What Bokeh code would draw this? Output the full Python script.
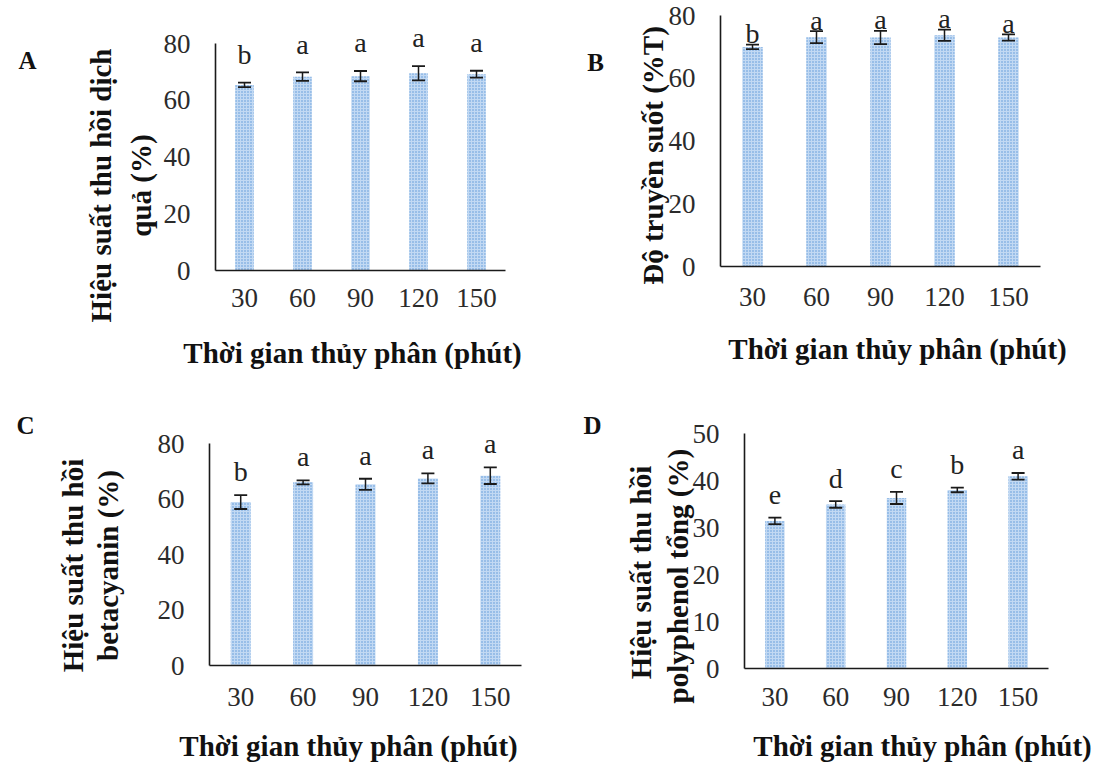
import math
from bokeh.plotting import figure
from bokeh.models import (ColumnDataSource, Range1d, FixedTicker,
                          Whisker, TeeHead, Label)
from bokeh.layouts import gridplot
from bokeh.core.properties import value
from bokeh.embed import file_html
from bokeh.resources import INLINE

# ---------------- data ----------------
times = ["30", "60", "90", "120", "150"]

recovery_juice = [65.4, 68.3, 68.5, 69.5, 69.2]
recovery_juice_err = [0.8, 1.5, 1.8, 2.5, 1.2]
recovery_juice_letters = ["b", "a", "a", "a", "a"]

transmittance = [70.0, 73.1, 73.0, 73.7, 73.0]
transmittance_err = [0.7, 1.9, 2.1, 1.8, 1.0]
transmittance_letters = ["b", "a", "a", "a", "a"]

betacyanin = [58.9, 66.0, 65.3, 67.4, 68.4]
betacyanin_err = [2.5, 0.7, 2.0, 1.8, 3.0]
betacyanin_letters = ["b", "a", "a", "a", "a"]

polyphenol = [31.4, 34.9, 36.3, 38.0, 40.9]
polyphenol_err = [0.7, 0.7, 1.3, 0.5, 0.7]
polyphenol_letters = ["e", "d", "c", "b", "a"]

x_title = "Thời gian thủy phân (phút)"

FONT = "Liberation Serif"
BAR_FILL = "#c2d9f3"
BAR_HATCH = "#5a95d7"
AX = "#1a1a1a"


def make_panel(tag, vals, errs, letters, ymax, ystep, ytitle_lines,
               W, H, fl, fr, axis0, axistop, letter_off, tick_standoff,
               ytitle_x, ytitle_y, xtitle_x, xtitle_y, tag_x, tag_y):
    n = len(times)
    xpos = [i + 1 for i in range(n)]
    ppx = (fr - fl) / n                       # pixels per category
    x0 = 0.5 - fl / ppx
    ppu = (axis0 - axistop) / ymax            # pixels per y unit
    y0 = -(H - axis0) / ppu

    def dx(px):
        return x0 + px / ppx

    def dy(py):
        return y0 + (H - py) / ppu

    p = figure(width=W, height=H,
               x_range=Range1d(x0, x0 + W / ppx),
               y_range=Range1d(y0, y0 + H / ppu),
               output_backend="svg", toolbar_location=None,
               min_border=0, min_border_left=0, min_border_right=0,
               min_border_top=0, min_border_bottom=0)
    p.outline_line_color = None
    p.grid.visible = False
    p.background_fill_color = "white"
    p.border_fill_color = "white"

    src = ColumnDataSource(dict(
        x=xpos, top=vals,
        lo=[v - e for v, e in zip(vals, errs)],
        hi=[v + e for v, e in zip(vals, errs)],
        ly=[v + e + letter_off for v, e in zip(vals, errs)],
        lt=letters))

    p.vbar(x="x", top="top", bottom=0, width=0.32, source=src,
           fill_color=BAR_FILL, line_color=None,
           hatch_pattern="dot", hatch_color=BAR_HATCH, hatch_scale=3,
           hatch_weight=1.3)

    w = Whisker(base="x", lower="lo", upper="hi", source=src,
                line_color=AX, line_width=1.5, level="overlay",
                upper_head=TeeHead(size=13, line_color=AX, line_width=1.8),
                lower_head=TeeHead(size=13, line_color=AX, line_width=1.8))
    p.add_layout(w)

    p.text(x="x", y="ly", text="lt", source=src, text_align="center",
           text_baseline="middle", text_font=value(FONT),
           text_font_size="28px", text_color="#222222")

    # axes drawn at fixed locations
    xa = p.xaxis[0]
    ya = p.yaxis[0]
    xa.fixed_location = 0
    ya.fixed_location = 0.5
    xa.bounds = (0.5, n + 0.5)
    ya.bounds = (0, ymax)
    xa.ticker = FixedTicker(ticks=xpos)
    xa.major_label_overrides = {xp: t for xp, t in zip(xpos, times)}
    ya.ticker = FixedTicker(ticks=list(range(0, ymax + 1, ystep)))
    for ax in (xa, ya):
        ax.axis_line_color = AX
        ax.axis_line_width = 1.6
        ax.major_tick_line_color = None
        ax.minor_tick_line_color = None
        ax.major_tick_out = 0
        ax.major_tick_in = 0
        ax.minor_tick_out = 0
        ax.minor_tick_in = 0
        ax.major_label_text_font = FONT
        ax.major_label_text_font_size = "27px"
        ax.major_label_text_color = "#2b2b2b"
    ya.major_label_standoff = 25
    xa.major_label_standoff = tick_standoff

    # y axis title (rotated), one or two lines
    for i, line in enumerate(ytitle_lines):
        p.add_layout(Label(x=dx(ytitle_x[i]), y=dy(ytitle_y), text=line,
                           angle=math.pi / 2, text_align="center",
                           text_baseline="middle", text_font=FONT,
                           text_font_style="bold", text_font_size="29px",
                           text_color="#111111"))
    # x axis title
    p.add_layout(Label(x=dx(xtitle_x), y=dy(xtitle_y), text=x_title,
                       text_align="center", text_baseline="middle",
                       text_font=FONT, text_font_style="bold",
                       text_font_size="29px", text_color="#111111"))
    # panel tag
    p.add_layout(Label(x=dx(tag_x), y=dy(tag_y), text=tag,
                       text_align="center", text_baseline="middle",
                       text_font=FONT, text_font_style="bold",
                       text_font_size="25px", text_color="#111111"))
    return p


pA = make_panel("A", recovery_juice, recovery_juice_err, recovery_juice_letters,
                80, 20, ["Hiệu suất thu hồi dịch", "quả (%)"],
                556, 382, 215, 505, 270, 43, 10, 18,
                [100, 140], 185, 352, 352, 27, 60)
pB = make_panel("B", transmittance, transmittance_err, transmittance_letters,
                80, 20, ["Độ truyền suốt (%T)"],
                557, 382, 164, 484, 266, 15, 3.5, 21,
                [96], 155, 341, 348, 39, 62)
pC = make_panel("C", betacyanin, betacyanin_err, betacyanin_letters,
                80, 20, ["Hiệu suất thu hồi", "betacyanin (%)"],
                556, 382, 209, 521, 283, 61, 8.5, 22,
                [72, 107], 183, 348, 363, 25, 43)
pD = make_panel("D", polyphenol, polyphenol_err, polyphenol_letters,
                50, 10, ["Hiệu suất thu hồi", "polyphenol tổng  (%)"],
                557, 382, 188, 492, 286, 51, 4.9, 19,
                [84, 121], 190, 366, 363, 36, 43)

grid = gridplot([[pA, pB], [pC, pD]], toolbar_location=None)

open("out.html", "w").write(file_html(grid, INLINE))
